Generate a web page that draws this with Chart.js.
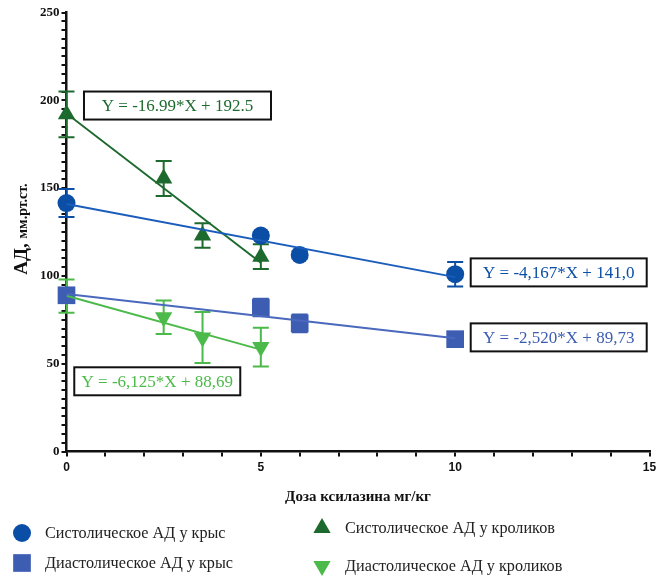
<!DOCTYPE html>
<html>
<head>
<meta charset="utf-8">
<script src="https://cdn.jsdelivr.net/npm/chart.js@4.4.0/dist/chart.umd.min.js"></script>
<style>
  body { margin: 0; background: #fff; }
</style>
</head>
<body>
<canvas id="bpChart" width="662" height="581"></canvas>
<script>
// Дозы ксилазина (мг/кг)
const ratDose = [0, 5, 6, 10];
const rabbitDose = [0, 2.5, 3.5, 5];

// Средние значения АД и ошибки
const ratSys = [141.5, 123, 112, 101];
const ratSysErr = [8, 2, 2, 7];
const ratDia = [89, 82, 73, 64];
const ratDiaErr = [4, 5, 5, 4];
const rabbitSys = [192, 155.5, 123, 111];
const rabbitSysErr = [13, 10, 7, 7];
const rabbitDia = [88.5, 76.5, 65, 59.5];
const rabbitDiaErr = [9.5, 9.5, 14.5, 11];

// Линейная регрессия: [наклон, пересечение, x конца линии]
const ratSysFit = [-4.167, 141.0, 10];
const ratDiaFit = [-2.520, 89.73, 10];
const rabbitSysFit = [-16.99, 192.5, 5];
const rabbitDiaFit = [-6.125, 88.69, 5];

const seriesLabels = [
    'Систолическое АД у крыс',
    'Диастолическое АД у крыс',
    'Систолическое АД у кроликов',
    'Диастолическое АД у кроликов'
];
const xTicks = [0, 5, 10, 15];
const yTicks = [0, 50, 100, 150, 200, 250];

const colRatSys = '#0b4ea6';
const colRatDia = '#3d5db3';
const colRabSys = '#1d6a2e';
const colRabDia = '#4cba4a';

const serif = '"Liberation Serif", "Times New Roman", serif';
const sans = '"Liberation Sans", Arial, sans-serif';

function points(xs, ys) {
    return xs.map((x, i) => ({ x: x, y: ys[i] }));
}

function fitLine(fit) {
    return [{ x: 0, y: fit[1] }, { x: fit[2], y: fit[1] + fit[0] * fit[2] }];
}

function lineSet(fit, color) {
    return {
        type: 'line',
        data: fitLine(fit),
        borderColor: color,
        borderWidth: 2,
        pointRadius: 0,
        fill: false,
        isFit: true
    };
}

function markerSet(label, xs, ys, errs, color, style, radius, rotation) {
    return {
        type: 'scatter',
        label: label,
        data: points(xs, ys),
        errors: errs,
        clip: false,
        backgroundColor: color,
        borderColor: color,
        borderWidth: 0,
        pointStyle: style,
        pointRadius: radius,
        pointHoverRadius: radius,
        rotation: rotation || 0
    };
}

// Вертикальные планки погрешностей
const errorBars = {
    id: 'errorBars',
    beforeDatasetsDraw(chart) {
        const ctx = chart.ctx;
        const xs = chart.scales.x, ys = chart.scales.y;
        chart.data.datasets.forEach(ds => {
            if (!ds.errors) return;
            ctx.save();
            ctx.strokeStyle = ds.borderColor;
            ctx.lineWidth = 2;
            ds.data.forEach((p, i) => {
                const e = ds.errors[i];
                const px = xs.getPixelForValue(p.x);
                const top = ys.getPixelForValue(p.y + e);
                const bot = ys.getPixelForValue(p.y - e);
                ctx.beginPath();
                ctx.moveTo(px, top); ctx.lineTo(px, bot);
                ctx.moveTo(px - 8, top); ctx.lineTo(px + 8, top);
                ctx.moveTo(px - 8, bot); ctx.lineTo(px + 8, bot);
                ctx.stroke();
            });
            ctx.restore();
        });
    }
};

// Уравнения регрессии в рамках
const equations = [
    { text: 'Y = -16.99*X + 192.5', color: colRabSys, x: 0.45, y: 205, w: 187 },
    { text: 'Y = -4,167*X + 141,0', color: colRatSys, x: 10.4, y: 110, w: 176 },
    { text: 'Y = -2,520*X + 89,73', color: colRatDia, x: 10.4, y: 73, w: 176 },
    { text: 'Y = -6,125*X + 88,69', color: colRabDia, x: 0.2, y: 48, w: 166 }
];

const equationBoxes = {
    id: 'equationBoxes',
    afterDatasetsDraw(chart) {
        const ctx = chart.ctx;
        const xs = chart.scales.x, ys = chart.scales.y;
        ctx.save();
        ctx.font = '17px ' + serif;
        ctx.textBaseline = 'middle';
        equations.forEach(eq => {
            const left = xs.getPixelForValue(eq.x);
            const top = ys.getPixelForValue(eq.y);
            const h = 28;
            ctx.fillStyle = '#fff';
            ctx.fillRect(left, top, eq.w, h);
            ctx.strokeStyle = '#111';
            ctx.lineWidth = 2;
            ctx.strokeRect(left, top, eq.w, h);
            ctx.fillStyle = eq.color;
            ctx.textAlign = 'center';
            ctx.fillText(eq.text, left + eq.w / 2, top + h / 2 + 1);
        });
        ctx.restore();
    }
};

// Подпись оси Y: «АД,» крупнее, «мм.рт.ст.» мельче
const yAxisTitle = {
    id: 'yAxisTitle',
    afterDraw(chart) {
        const ctx = chart.ctx;
        const area = chart.chartArea;
        const big = 'bold 19px ' + serif;
        const small = 'bold 14px ' + serif;
        const partA = 'АД, ';
        const partB = 'мм.рт.ст.';
        ctx.save();
        ctx.font = big;
        const wa = ctx.measureText(partA).width;
        ctx.font = small;
        const wb = ctx.measureText(partB).width;
        ctx.translate(27, (area.top + area.bottom) / 2 - 3);
        ctx.rotate(-Math.PI / 2);
        ctx.fillStyle = '#111';
        ctx.textBaseline = 'alphabetic';
        ctx.textAlign = 'left';
        const start = -(wa + wb) / 2;
        ctx.font = big;
        ctx.fillText(partA, start, 0);
        ctx.font = small;
        ctx.fillText(partB, start + wa, 0);
        ctx.restore();
    }
};

function drawMarker(ctx, style, x, y, r, rotation) {
    ctx.beginPath();
    if (style === 'circle') {
        ctx.arc(x, y, r, 0, Math.PI * 2);
    } else if (style === 'rect') {
        const s = r * Math.SQRT1_2;
        ctx.rect(x - s, y - s, 2 * s, 2 * s);
    } else {
        const dir = rotation ? -1 : 1;
        ctx.moveTo(x, y - dir * r);
        ctx.lineTo(x + r * 0.866, y + dir * r * 0.5);
        ctx.lineTo(x - r * 0.866, y + dir * r * 0.5);
        ctx.closePath();
    }
    ctx.fill();
}

// Легенда в две колонки под графиком
const legendSlots = [[22, 533], [22, 563], [322, 528], [322, 566]];

const blockLegend = {
    id: 'blockLegend',
    afterDraw(chart) {
        const ctx = chart.ctx;
        ctx.save();
        ctx.font = '16.2px ' + serif;
        ctx.textBaseline = 'middle';
        ctx.textAlign = 'left';
        let k = 0;
        chart.data.datasets.forEach(ds => {
            if (ds.isFit) return;
            const [lx, ly] = legendSlots[k++];
            ctx.fillStyle = ds.backgroundColor;
            drawMarker(ctx, ds.pointStyle, lx, ly, ds.pointRadius, ds.rotation);
            ctx.fillStyle = '#222';
            ctx.fillText(ds.label, lx + 23, ly + 1);
        });
        ctx.restore();
    }
};

new Chart(document.getElementById('bpChart').getContext('2d'), {
    data: {
        datasets: [
            lineSet(ratSysFit, '#1b5dbb'),
            lineSet(ratDiaFit, '#4a69bd'),
            lineSet(rabbitSysFit, colRabSys),
            lineSet(rabbitDiaFit, colRabDia),
            markerSet(seriesLabels[0], ratDose, ratSys, ratSysErr, colRatSys, 'circle', 9),
            markerSet(seriesLabels[1], ratDose, ratDia, ratDiaErr, colRatDia, 'rect', 12.5),
            markerSet(seriesLabels[2], rabbitDose, rabbitSys, rabbitSysErr, colRabSys, 'triangle', 10),
            markerSet(seriesLabels[3], rabbitDose, rabbitDia, rabbitDiaErr, colRabDia, 'triangle', 10, 180)
        ]
    },
    options: {
        responsive: false,
        animation: false,
        layout: { padding: { left: 38, right: 12, top: 6, bottom: 71 } },
        plugins: {
            legend: { display: false },
            tooltip: { enabled: false }
        },
        scales: {
            x: {
                type: 'linear',
                min: 0,
                max: 15,
                ticks: {
                    stepSize: 1,
                    autoSkip: false,
                    maxRotation: 0,
                    padding: 4,
                    color: '#111',
                    font: { family: sans, size: 12, weight: 'bold' },
                    callback: v => xTicks.includes(v) ? v : ''
                },
                grid: { drawOnChartArea: false, drawTicks: true, tickLength: 5, color: '#111', lineWidth: 2 },
                border: { color: '#111', width: 2.5 },
                title: {
                    display: true,
                    text: 'Доза ксилазина мг/кг',
                    color: '#111',
                    font: { family: serif, size: 15, weight: 'bold' },
                    padding: { top: 9 }
                }
            },
            y: {
                min: 0,
                max: 250,
                ticks: {
                    stepSize: 5,
                    maxTicksLimit: 60,
                    autoSkip: false,
                    padding: 2,
                    color: '#111',
                    font: { family: serif, size: 13, weight: 'bold' },
                    callback: v => yTicks.includes(v) ? v : ''
                },
                grid: { drawOnChartArea: false, drawTicks: true, tickLength: 5, color: '#111', lineWidth: 2 },
                border: { color: '#111', width: 2.5 }
            }
        }
    },
    plugins: [errorBars, equationBoxes, yAxisTitle, blockLegend]
});
</script>
</body>
</html>
